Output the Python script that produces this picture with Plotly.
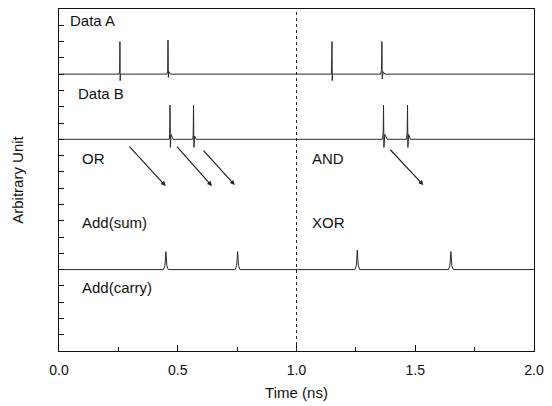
import plotly.graph_objects as go

# ---- data (relative to each panel's baseline, arbitrary units) ----
data_a_t = [0.0, 0.253, 0.2555, 0.2565, 0.2575, 0.259, 0.262,
            0.455, 0.4575, 0.459, 0.4605, 0.463, 0.470,
            1.147, 1.1495, 1.1505, 1.152,
            1.355, 1.358, 1.3595, 1.361, 1.365, 1.372, 2.0]
data_a_v = [0, 0, 0.2, 2.0, -0.4, 0, 0,
            0, 0.2, 2.1, -0.2, 0.15, 0,
            0, 2.0, -0.4, 0,
            0, 0.3, 2.0, -0.3, 0.15, 0, 0]

data_b_t = [0.0, 0.464, 0.466, 0.4675, 0.469, 0.472, 0.480,
            0.563, 0.565, 0.5665, 0.568, 0.571, 0.578,
            1.362, 1.365, 1.3665, 1.368, 1.372, 1.382,
            1.463, 1.466, 1.4675, 1.469, 1.472, 1.480, 2.0]
data_b_v = [0, 0, 0.3, 2.1, -0.5, 0.3, 0,
            0, 0.3, 2.1, -0.5, 0.2, 0,
            0, 0.4, 2.1, -0.5, 0.3, 0,
            0, 0.4, 2.1, -0.5, 0.3, 0, 0]

sum_t = [0.0,
         0.440, 0.446, 0.448, 0.450, 0.452, 0.454, 0.460,
         0.742, 0.748, 0.750, 0.752, 0.754, 0.756, 0.762,
         1.246, 1.252, 1.254, 1.256, 1.258, 1.260, 1.266,
         1.640, 1.646, 1.648, 1.650, 1.652, 1.654, 1.660,
         2.0]
sum_v = [0,
         0, 0.25, 0.7, 1.1, 0.7, 0.25, 0,
         0, 0.25, 0.7, 1.1, 0.7, 0.25, 0,
         0, 0.25, 0.7, 1.2, 0.7, 0.25, 0,
         0, 0.25, 0.7, 1.1, 0.7, 0.25, 0,
         0]

# panel baselines
base_a, base_b, base_sum = 17, 13, 5

labels = ["Data A", "Data B", "OR", "Add(sum)", "AND", "XOR", "Add(carry)"]
label_x = [0.037, 0.07, 0.087, 0.087, 1.056, 1.056, 0.087]
label_y = [20.3, 15.8, 11.8, 7.9, 11.8, 7.9, 3.9]

# arrows: (tail_x, tail_y, head_x, head_y)
arrow_tail_x = [0.291, 0.491, 0.603, 1.389]
arrow_tail_y = [12.64, 12.64, 12.39, 12.45]
arrow_head_x = [0.449, 0.644, 0.740, 1.534]
arrow_head_y = [10.13, 10.13, 10.19, 10.19]

x_ticks = [0.0, 0.5, 1.0, 1.5, 2.0]
x_ticktext = ["0.0", "0.5", "1.0", "1.5", "2.0"]

line_style = dict(color="#2a2a2a", width=1)

fig = go.Figure()
fig.add_trace(go.Scatter(x=data_a_t, y=[v + base_a for v in data_a_v],
                         mode="lines", line=line_style, showlegend=False))
fig.add_trace(go.Scatter(x=data_b_t, y=[v + base_b for v in data_b_v],
                         mode="lines", line=line_style, showlegend=False))
fig.add_trace(go.Scatter(x=sum_t, y=[v + base_sum for v in sum_v],
                         mode="lines", line=line_style, showlegend=False))

fig.add_vline(x=1.0, line=dict(color="#222", width=1, dash="dot"))

for t, lx, ly in zip(labels, label_x, label_y):
    fig.add_annotation(x=lx, y=ly, text=t, showarrow=False, xanchor="left",
                       yanchor="middle", font=dict(size=15, color="#111"))

for tx, ty, hx, hy in zip(arrow_tail_x, arrow_tail_y, arrow_head_x, arrow_head_y):
    fig.add_annotation(x=hx, y=hy, ax=tx, ay=ty, xref="x", yref="y",
                       axref="x", ayref="y", text="", showarrow=True,
                       arrowhead=2, arrowsize=0.8, arrowwidth=1.2,
                       arrowcolor="#222")

fig.update_layout(
    width=552, height=406,
    margin=dict(l=59, r=12, t=8, b=54),
    paper_bgcolor="white", plot_bgcolor="white",
    font=dict(family="Liberation Sans, Arial, sans-serif", size=14, color="#111"),
    xaxis=dict(range=[0, 2], tickvals=x_ticks, ticktext=x_ticktext,
               ticks="inside", ticklen=6, tickcolor="#111",
               minor=dict(ticks="inside", dtick=0.25, ticklen=4, tickcolor="#111"),
               showline=True, linecolor="#111", linewidth=1, mirror=True,
               showgrid=False, zeroline=False, ticklabelstandoff=6,
               title=dict(text="Time (ns)", font=dict(size=15), standoff=10),
               tickfont=dict(size=14)),
    yaxis=dict(range=[0, 21], tickvals=list(range(1, 21)), showticklabels=False,
               ticks="inside", ticklen=5, tickcolor="#111",
               showline=True, linecolor="#111", linewidth=1, mirror=True,
               showgrid=False, zeroline=False,
               title=dict(text="Arbitrary Unit", font=dict(size=15), standoff=30)),
)

fig.write_html("out.html", config={"displayModeBar": False},
               post_script="document.body.style.margin='0';")
